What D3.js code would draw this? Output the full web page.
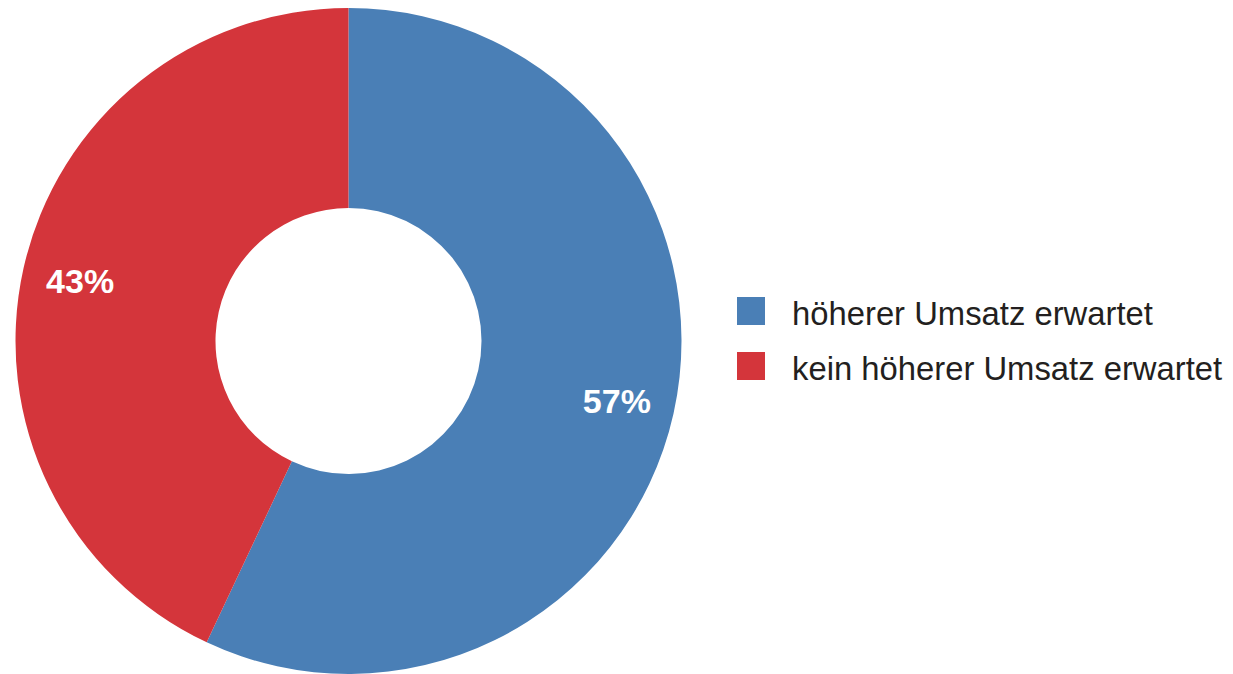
<!DOCTYPE html>
<html>
<head>
<meta charset="utf-8">
<script src="https://cdn.jsdelivr.net/npm/d3@7"></script>
<style>
  html, body { margin: 0; padding: 0; background: #fff; }
  svg { display: block; }
</style>
</head>
<body>
<svg id="chart" width="1233" height="674"></svg>
<script>
const categories = ["höherer Umsatz erwartet", "kein höherer Umsatz erwartet"];
const values = [57, 43];
const labels = ["57%", "43%"];
const colors = ["#4a7fb6", "#d4353b"];

const svg = d3.select("#chart");
const cx = 348.5, cy = 341, outerR = 333, innerR = 133, labelR = 275;

const pie = d3.pie().sort(null).value(d => d)(values);
const arc = d3.arc().innerRadius(innerR).outerRadius(outerR);
const labelArc = d3.arc().innerRadius(labelR).outerRadius(labelR);

const g = svg.append("g").attr("transform", `translate(${cx},${cy})`);
g.selectAll("path.slice").data(pie).enter().append("path")
  .attr("class", "slice")
  .attr("d", arc)
  .attr("fill", (d, i) => colors[i]);

g.selectAll("text.lbl").data(pie).enter().append("text")
  .attr("class", "lbl")
  .attr("transform", d => `translate(${labelArc.centroid(d)})`)
  .attr("text-anchor", "middle")
  .attr("dy", "0.36em")
  .attr("fill", "#fff")
  .attr("font-family", "Liberation Sans, Arial, sans-serif")
  .attr("font-weight", "bold")
  .attr("font-size", 34)
  .text((d, i) => labels[i]);

const legend = svg.append("g").attr("transform", "translate(737,297)");
const item = legend.selectAll("g").data(categories).enter().append("g")
  .attr("transform", (d, i) => `translate(0,${i * 55})`);
item.append("rect").attr("width", 28).attr("height", 28)
  .attr("fill", (d, i) => colors[i]);
item.append("text").attr("x", 55).attr("y", 28)
  .attr("fill", "#231f20")
  .attr("font-family", "Liberation Sans, Arial, sans-serif")
  .attr("font-size", 32.8)
  .text(d => d);
</script>
</body>
</html>
